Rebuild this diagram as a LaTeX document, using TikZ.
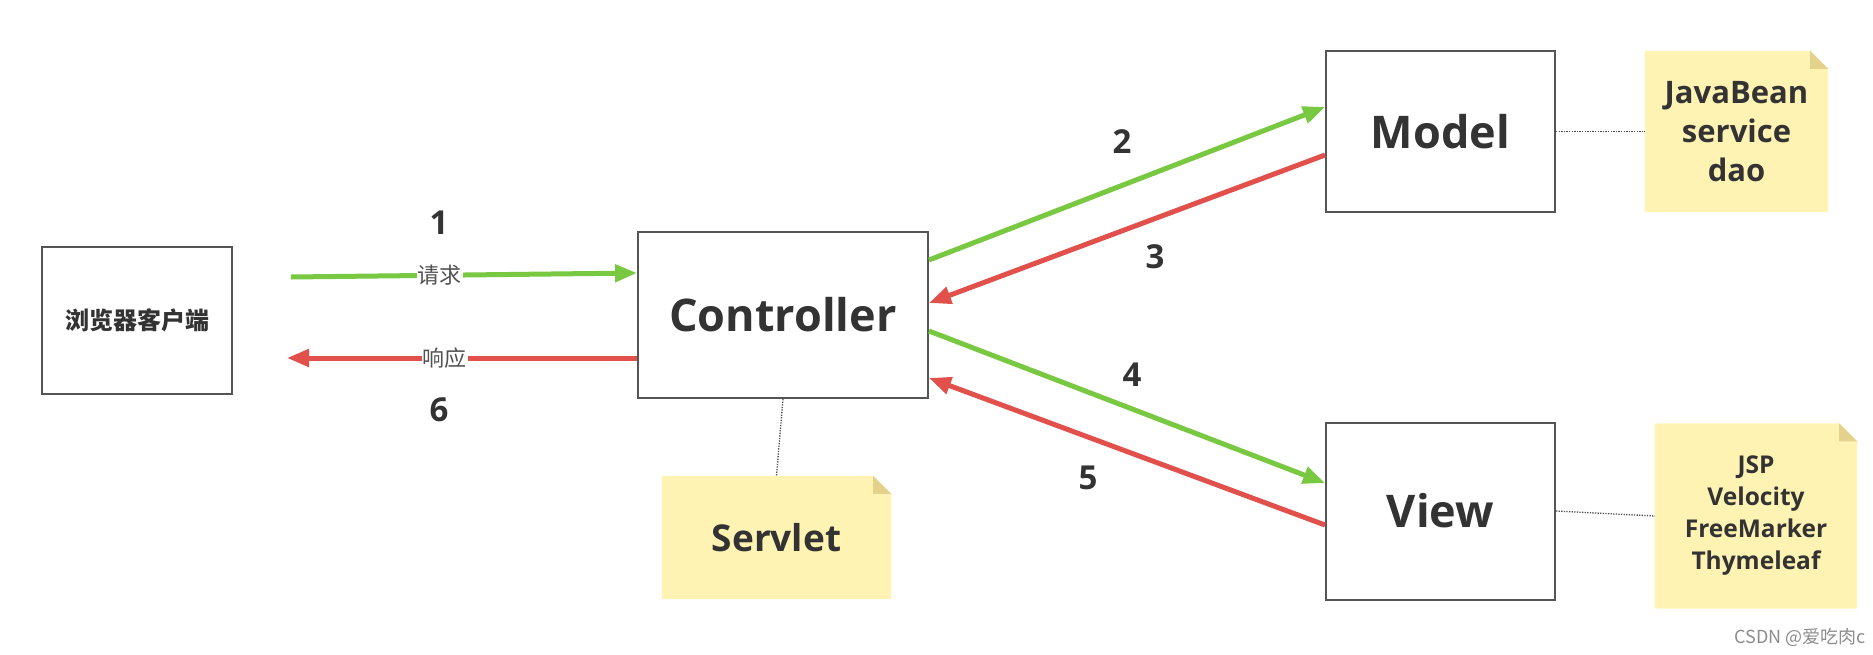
\documentclass[tikz,border=0pt]{standalone}
\usepackage{fontspec}
\setmainfont{Open Sans}
\newfontfamily\cjk{Noto Sans CJK SC}
\usetikzlibrary{arrows.meta,backgrounds,calc}
\definecolor{txt}{HTML}{333333}
\definecolor{grn}{RGB}{120,200,65}
\definecolor{rd}{RGB}{226,80,76}
\definecolor{notefill}{RGB}{255,243,180}
\definecolor{notefold}{RGB}{228,210,140}
\definecolor{boxline}{HTML}{555555}
\begin{document}
\begin{tikzpicture}[x=1pt,y=-1pt,
  mvcbox/.style={draw=boxline,line width=2pt,fill=white,inner sep=0pt,text=txt,font=\bfseries\fontsize{45}{52}\selectfont},
  notebox/.style={inner sep=0pt,text=txt,align=center},
  num/.style={text=txt,font=\bfseries\fontsize{33}{40}\selectfont,inner sep=0pt},
  lbl/.style={fill=white,text=txt!85,inner sep=1pt,font=\cjk\fontsize{22}{24}\selectfont},
  garrow/.style={draw=grn,line width=5pt,-{Triangle[length=22pt,width=17pt]}},
  rarrow/.style={draw=rd,line width=5pt,-{Triangle[length=22pt,width=17pt]}},
  dotline/.style={draw=black!70,line width=1.3pt,dash pattern=on 1.3pt off 1.3pt}
]
\useasboundingbox (0,0) rectangle (1873,654);

% boxes
\node[draw=boxline,line width=2pt,inner sep=0pt,minimum width=190pt,minimum height=147pt,text=txt,font=\cjk\bfseries\fontsize{24}{28}\selectfont] (b) at (137,320.5) {浏览器客户端};
\node[mvcbox,minimum width=290pt,minimum height=166pt] (ctrl) at (783,315) {Controller};
\node[mvcbox,minimum width=229pt,minimum height=161pt] (model) at (1440.5,131.5) {Model};
\node[mvcbox,minimum width=229pt,minimum height=177pt] (view) at (1440.5,511) {View};

% notes
\node[notebox,minimum width=183pt,minimum height=161pt,font=\bfseries\fontsize{31}{39}\selectfont] (jnote) at (1736.5,131.5) {JavaBean\\service\\dao};
\node[notebox,minimum width=202pt,minimum height=185pt,font=\bfseries\fontsize{24.5}{32}\selectfont] (vnote) at (1756,516) {JSP\\Velocity\\FreeMarker\\Thymeleaf};
\node[notebox,minimum width=229pt,minimum height=123pt,font=\bfseries\fontsize{37}{44}\selectfont] (snote) at (776.5,537.5) {Servlet};

\begin{scope}[on background layer]
\foreach \n in {jnote,vnote,snote}{
  \fill[notefill] (\n.north west) -- ([xshift=-18pt]\n.north east) -- ([yshift=-18pt]\n.north east) -- (\n.south east) -- (\n.south west) -- cycle;
  \fill[notefold] ([xshift=-18pt]\n.north east) -- ([yshift=-18pt]\n.north east) -- ([xshift=-18pt,yshift=-18pt]\n.north east) -- cycle;
}
\end{scope}

% dotted links
\draw[dotline] (ctrl.south) -- (snote.north);
\draw[dotline] (model.east) -- (jnote.west);
\draw[dotline] (view.east) -- (vnote.west);

% arrows
\draw[garrow] ([xshift=58pt,yshift=43.5pt]b.east) -- node[lbl,pos=0.43]{请求} ([yshift=42pt]ctrl.west);
\draw[rarrow] ([yshift=-43pt]ctrl.west) -- node[lbl,pos=0.55]{响应} ([xshift=54pt,yshift=-37.5pt]b.east);
\draw[garrow] ([yshift=55pt]ctrl.east) -- ([yshift=24.5pt]model.west);
\draw[rarrow] ([yshift=-23.5pt]model.west) -- ([yshift=12pt]ctrl.east);
\draw[garrow] ([yshift=-16pt]ctrl.east) -- ([yshift=28pt]view.west);
\draw[rarrow] ([yshift=-14pt]view.west) -- ([yshift=-63pt]ctrl.east);

% numbers
\node[num] (n1) at (439,223) {1};
\node[num] (n6) at (439,410) {6};
\node[num] (n2) at (1122,142) {2};
\node[num] (n3) at (1155,257) {3};
\node[num] (n4) at (1132,375) {4};
\node[num] (n5) at (1088,478) {5};

% watermark
\node[text=black!45,inner sep=0pt,font=\cjk\fontsize{18}{20}\selectfont] (wm) at (1800,637) {CSDN @爱吃肉c};
\end{tikzpicture}
\end{document}
